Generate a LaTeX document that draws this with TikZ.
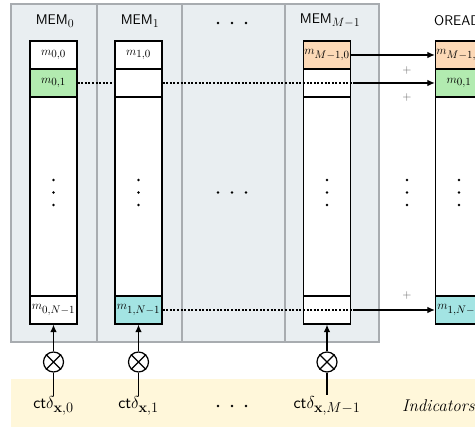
\documentclass[tikz,border=0pt]{standalone}
\usetikzlibrary{arrows.meta}
% text size / math text / script / scriptscript
\DeclareMathSizes{11.5}{11.5}{10.5}{8.5}
\DeclareMathSizes{14}{14}{12.5}{10}
\DeclareMathSizes{17}{17}{15}{12}
\definecolor{panelfill}{RGB}{233,238,241}
\definecolor{panelline}{RGB}{168,172,176}
\definecolor{bandfill}{RGB}{255,247,218}
\definecolor{cellgreen}{RGB}{178,235,176}
\definecolor{cellpeach}{RGB}{252,217,183}
\definecolor{cellcyan}{RGB}{163,228,227}
\definecolor{plusgray}{RGB}{95,95,95}
\tikzset{
  panel/.style={draw=panelline, line width=1.2pt},
  cell/.style={draw, line width=1.25pt, fill=white, minimum width=47pt,
    minimum height=28pt, inner sep=0pt, font=\fontsize{11.5}{13}\selectfont},
  midcell/.style={cell, minimum height=199pt},
  gate/.style={draw, circle, line width=1.25pt, minimum size=20pt, inner sep=0pt},
  arr/.style={line width=1.2pt, -{Latex[length=7.5pt,width=6.5pt]}},
  dotline/.style={line width=1.1pt, dash pattern=on 2pt off 1.6pt},
  head/.style={font=\fontsize{14}{16}\selectfont},
  ind/.style={font=\fontsize{17}{20}\selectfont, inner sep=1pt},
  plus/.style={text=plusgray, font=\fontsize{12}{13}\selectfont},
  dot/.style={fill=black}
}
\begin{document}
\begin{tikzpicture}[x=1pt,y=-1pt]
\useasboundingbox (0,0) rectangle (475,427);
\clip (0,0) rectangle (475,427);

% memory panel with its column dividers
\filldraw[panel, fill=panelfill] (11,4) rectangle (379,342);
\foreach \x in {97,182,285} \draw[panel] (\x,4) -- (\x,342);

% indicator band
\fill[bandfill] (11,379) rectangle (480,432);

% column headers
\node[head] (h0) at (55,21) {\textsf{MEM}$_0$};
\node[head] (h1) at (140,21) {\textsf{MEM}$_1$};
\node[head] (h2) at (330,21) {\textsf{MEM}$_{M-1}$};
\node[head, anchor=base west, inner sep=0pt] (h3) at (434,26) {\textsf{OREAD}};

% memory columns: rows 0, 1, middle, N-1
\node[cell] (c0r0) at (53.5,55) {$m_{0,0}$};
\node[cell, fill=cellgreen] (c0r1) at (53.5,83) {$m_{0,1}$};
\node[midcell] (c0m) at (53.5,196.5) {};
\node[cell] (c0l) at (53.5,310) {$m_{0,N-1}$};

\node[cell] (c1r0) at (138.5,55) {$m_{1,0}$};
\node[cell] (c1r1) at (138.5,83) {};
\node[midcell] (c1m) at (138.5,196.5) {};
\node[cell, fill=cellcyan] (c1l) at (138.5,310) {$m_{1,N-1}$};

\node[cell, fill=cellpeach] (c2r0) at (327,55) {$m_{M-1,0}$};
\node[cell] (c2r1) at (327,83) {};
\node[midcell] (c2m) at (327,196.5) {};
\node[cell] (c2l) at (327,310) {};

\node[cell, fill=cellpeach] (o0) at (459,55) {$m_{M-1,0}$};
\node[cell, fill=cellgreen] (o1) at (459,83) {$m_{0,1}$};
\node[midcell] (om) at (459,196.5) {};
\node[cell, fill=cellcyan] (ol) at (459,310) {$m_{1,N-1}$};

% vertical ellipses
\foreach \x in {53.5,138.5,327,407,459}
  \foreach \y in {180,192.5,205}
    \fill[dot] (\x,\y) circle (1.3pt);
% horizontal ellipses
\foreach \y in {23,192.5,406}
  \foreach \x in {218,232,246}
    \fill[dot] (\x,\y) circle (1.3pt);

% accumulation into the output column
\coordinate (k1) at (355,83);
\coordinate (k2) at (355,310);
\draw[arr] (c2r0) -- (o0);
\draw[dotline] (c0r1) -- (c1r1);
\draw[dotline] (c1r1.east) -- (k1);
\draw[arr] (k1) -- (o1);
\draw[dotline] (c1l.east) -- (k2);
\draw[arr] (k2) -- (ol);
\node[plus] (p0) at (407,71) {$+$};
\node[plus] (p1) at (407,98) {$+$};
\node[plus] (p2) at (407,296) {$+$};

% gating by the indicators
\foreach \i/\x/\lab in {0/53.5/0, 1/138.5/1, 2/327/M-1}{
  \node[gate] (g\i) at (\x,362) {};
  \draw[line width=1.25pt] (g\i.north east) -- (g\i.south west)
                           (g\i.north west) -- (g\i.south east);
  \node[ind] (d\i) at (\x,406) {\textsf{ct}$\delta_{\mathbf{x},\lab}$};
  \draw[line width=1.25pt] (g\i) -- (g\i |- d\i.north);
}
\draw[arr] (g0) -- (c0l);
\draw[arr] (g1) -- (c1l);
\draw[arr] (g2) -- (c2l);

\node[ind, anchor=west] (lbl) at (401,406) {\textit{Indicators}};
\end{tikzpicture}
\end{document}
